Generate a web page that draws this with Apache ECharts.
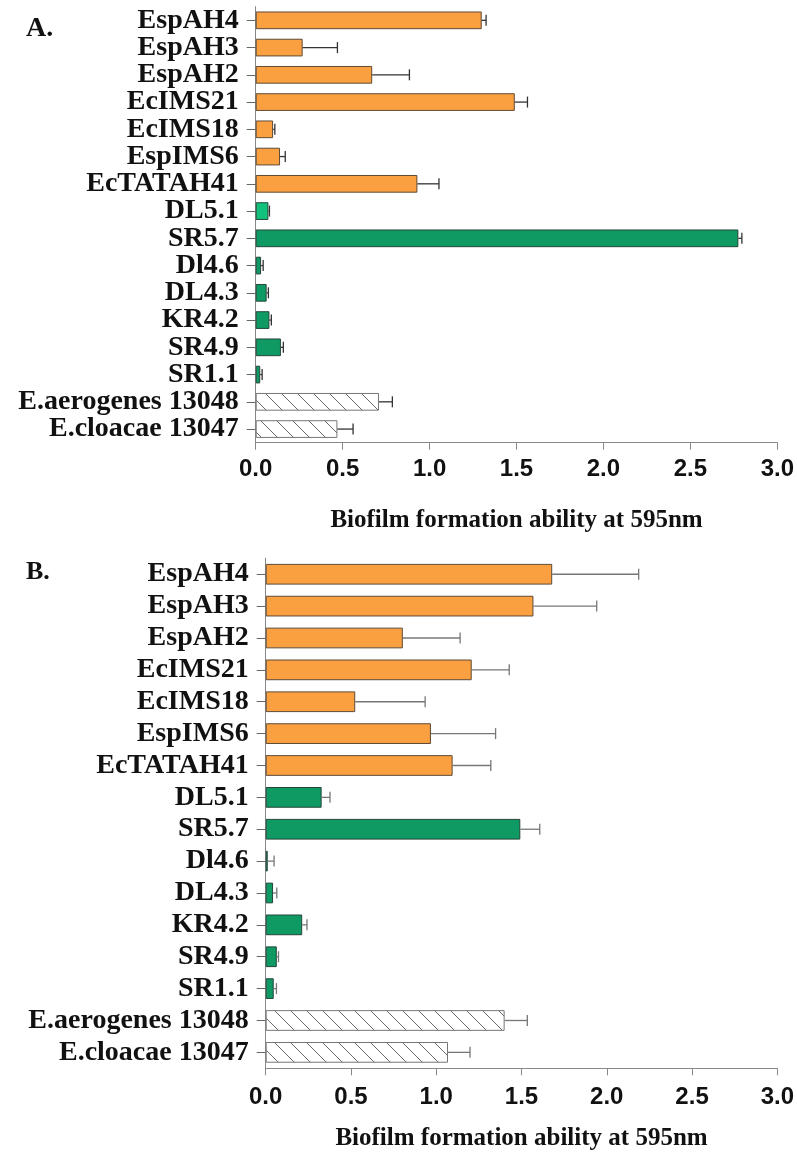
<!DOCTYPE html>
<html>
<head>
<meta charset="utf-8">
<script src="https://cdn.jsdelivr.net/npm/echarts@6/dist/echarts.min.js"></script>
<style>
  html, body { margin: 0; padding: 0; background: #fff; }
  #chart { width: 797px; height: 1157px; }
</style>
</head>
<body>
<div id="chart"></div>
<script>
// ---------- data ----------
const categories = ['EspAH4', 'EspAH3', 'EspAH2', 'EcIMS21', 'EcIMS18', 'EspIMS6', 'EcTATAH41',
  'DL5.1', 'SR5.7', 'Dl4.6', 'DL4.3', 'KR4.2', 'SR4.9', 'SR1.1', 'E.aerogenes 13048', 'E.cloacae 13047'];
const groups = ['isolate', 'isolate', 'isolate', 'isolate', 'isolate', 'isolate', 'isolate',
  'strain', 'strain', 'strain', 'strain', 'strain', 'strain', 'strain', 'reference', 'reference'];
// Panel A
const meanA = [1.30, 0.27, 0.67, 1.49, 0.10, 0.14, 0.93, 0.073, 2.776, 0.031, 0.063, 0.079, 0.145, 0.026, 0.709, 0.470];
const sdA   = [0.025, 0.20, 0.214, 0.073, 0.01, 0.03, 0.124, 0.006, 0.02, 0.012, 0.01, 0.011, 0.014, 0.011, 0.077, 0.09];
// Panel B
const meanB = [1.68, 1.57, 0.804, 1.208, 0.525, 0.969, 1.096, 0.328, 1.493, 0.012, 0.043, 0.214, 0.065, 0.047, 1.401, 1.069];
const sdB   = [0.507, 0.371, 0.336, 0.22, 0.41, 0.379, 0.224, 0.049, 0.114, 0.037, 0.022, 0.028, 0.01, 0.016, 0.133, 0.129];
const xTicks = [0, 0.5, 1.0, 1.5, 2.0, 2.5, 3.0];
const axisTitle = 'Biofilm formation ability at 595nm';
const panelLabels = ['A.', 'B.'];

// ---------- styles ----------
const SERIF = '"Liberation Serif", "Times New Roman", serif';
const SANS = '"Liberation Sans", Arial, sans-serif';
const ORANGE = '#FBA040';
const GREEN = '#0E9A62';
const LIGHT_GREEN = '#12C27C';

function hatchPattern() {
  const c = document.createElement('canvas');
  c.width = 16; c.height = 16;
  const ctx = c.getContext('2d');
  ctx.fillStyle = '#ffffff';
  ctx.fillRect(0, 0, 16, 16);
  ctx.strokeStyle = '#6a6a6a';
  ctx.lineWidth = 1;
  ctx.beginPath();
  ctx.moveTo(-2, -2); ctx.lineTo(18, 18);
  ctx.stroke();
  return { image: c, repeat: 'repeat' };
}
const HATCH = hatchPattern();

function styleFor(panel, i) {
  const g = groups[i];
  if (g === 'isolate') return { color: ORANGE, borderColor: '#5e4a35', borderWidth: 1 };
  if (g === 'strain') {
    const light = panel === 'A' && categories[i] === 'DL5.1';
    return { color: light ? LIGHT_GREEN : GREEN, borderColor: '#24463a', borderWidth: 1 };
  }
  return { color: HATCH, borderColor: '#777', borderWidth: 1 };
}

const grids = [
  { left: 255.7, top: 6.7, width: 523, height: 436 },
  { left: 265.7, top: 558.3, width: 513, height: 510 }
];

function xAxisFor(idx, nameGap, labelMargin) {
  return {
    gridIndex: idx, type: 'value', min: xTicks[0], max: xTicks[xTicks.length - 1], interval: 0.5,
    axisLine: { show: true, lineStyle: { color: '#888', width: 1 } },
    axisTick: { show: true, length: 7, lineStyle: { color: '#888' } },
    splitLine: { show: false },
    axisLabel: { fontSize: 24, fontWeight: 'bold', fontFamily: SANS, color: '#111', margin: labelMargin,
      formatter: v => v.toFixed(1) },
    name: axisTitle, nameLocation: 'middle', nameGap: nameGap,
    nameTextStyle: { fontSize: 25, fontWeight: 'bold', fontFamily: SERIF, color: '#111' }
  };
}
function yAxisFor(idx) {
  return {
    gridIndex: idx, type: 'category', data: categories, inverse: true,
    axisLine: { show: true, lineStyle: { color: '#888', width: 1 } },
    axisTick: { show: true, alignWithLabel: true, interval: 0, length: 9, lineStyle: { color: '#666' } },
    axisLabel: { interval: 0, hideOverlap: false, fontSize: 28, fontWeight: 'bold', fontFamily: SERIF,
      color: '#111', margin: 17 }
  };
}

function errorSeries(idx, means, sds, color) {
  return {
    type: 'custom', xAxisIndex: idx, yAxisIndex: idx, z: 10,
    encode: { x: [1, 2], y: 0 },
    data: means.map((m, i) => [i, m, m + sds[i]]),
    renderItem: (params, api) => {
      const c = api.value(0);
      const p1 = api.coord([api.value(1), c]);
      const p2 = api.coord([api.value(2), c]);
      const h = 5.5;
      const st = { stroke: color, lineWidth: 1.3 };
      return {
        type: 'group', children: [
          { type: 'line', shape: { x1: p1[0], y1: p1[1], x2: p2[0], y2: p2[1] }, style: st },
          { type: 'line', shape: { x1: p2[0], y1: p2[1] - h, x2: p2[0], y2: p2[1] + h }, style: st }
        ]
      };
    }
  };
}

function barSeries(idx, panel, means) {
  return {
    type: 'bar', xAxisIndex: idx, yAxisIndex: idx, barCategoryGap: '35%',
    data: means.map((v, i) => ({ value: v, itemStyle: styleFor(panel, i) })),
    animation: false
  };
}

const chart = echarts.init(document.getElementById('chart'), null, { renderer: 'canvas' });
chart.setOption({
  backgroundColor: '#fff',
  animation: false,
  grid: grids,
  xAxis: [xAxisFor(0, 65, 15), xAxisFor(1, 58, 17)],
  yAxis: [yAxisFor(0), yAxisFor(1)],
  series: [
    barSeries(0, 'A', meanA),
    errorSeries(0, meanA, sdA, '#333'),
    barSeries(1, 'B', meanB),
    errorSeries(1, meanB, sdB, '#777')
  ],
  graphic: [
    { type: 'text', left: 26, top: 15, style: { text: panelLabels[0], font: 'bold 28px ' + SERIF, fill: '#111' } },
    { type: 'text', left: 26, top: 559, style: { text: panelLabels[1], font: 'bold 26px ' + SERIF, fill: '#111' } }
  ]
});
</script>
</body>
</html>
